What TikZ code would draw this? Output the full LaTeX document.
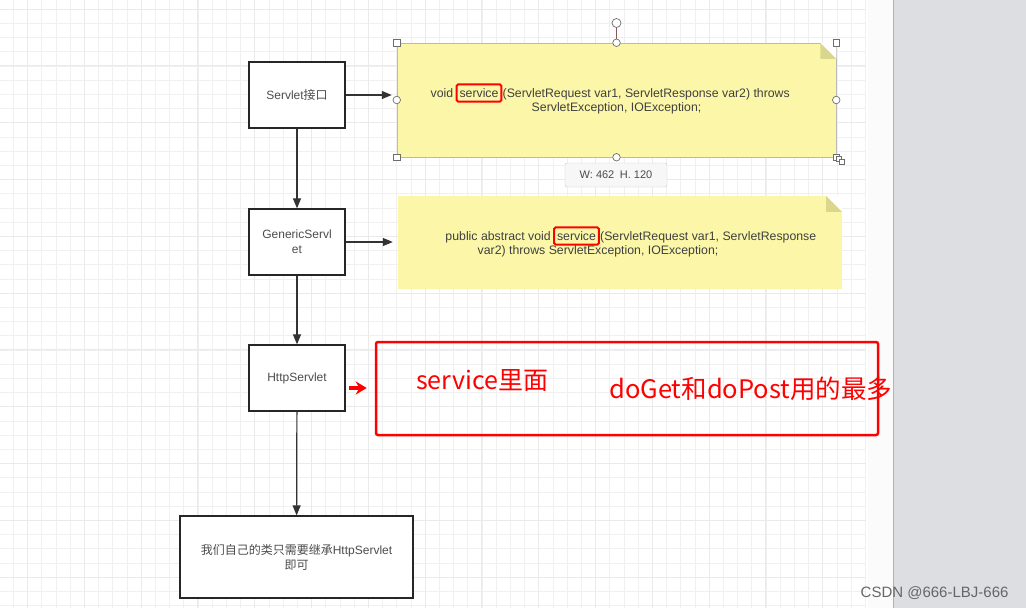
\documentclass[tikz,border=0pt]{standalone}
\usepackage{fontspec}
\setmainfont{Liberation Sans}
\newfontfamily\cjk{Noto Sans CJK SC}
\usepackage{tikz}
\usetikzlibrary{positioning,arrows.meta}
\definecolor{notey}{RGB}{252,247,168}
\definecolor{notefold}{RGB}{218,214,140}
\definecolor{panel}{RGB}{221,222,226}
\definecolor{gridmin}{RGB}{240,240,240}
\definecolor{gridmaj}{RGB}{234,234,234}
\definecolor{handle}{RGB}{110,110,110}

\begin{document}
\begin{tikzpicture}[x=1pt,y=-1pt,
  cls/.style={draw=black!85,line width=1.3pt,fill=white,minimum width=96,minimum height=66,
    align=center,font=\fontsize{12}{15}\selectfont,text=black!70,inner sep=2},
  flow/.style={draw=black!80,line width=1.2pt,-{Triangle[length=10,width=8]}},
  notetxt/.style={inner sep=0,font=\fontsize{12.3}{15}\selectfont,text=black!75},
  hilite/.style={notetxt,draw=red,line width=2pt,rounded corners=1.5,inner xsep=3,inner ysep=4},
  hsq/.style={draw=handle,fill=white,line width=0.7pt,minimum size=6.5,inner sep=0},
  hcirc/.style={draw=handle,fill=white,line width=0.7pt,circle,minimum size=7.5,inner sep=0}]
  \useasboundingbox (0,0) rectangle (1026,608);
  \fill[white] (0,0) rectangle (1026,608);
  % grid
  \foreach \i in {0,...,60}
    \draw[gridmin,line width=0.8pt] ({13.3+14.2*\i},0) -- ({13.3+14.2*\i},608);
  \foreach \j in {0,...,42}
    \draw[gridmin,line width=0.8pt] (0,{9.1+14.2*\j}) -- (866,{9.1+14.2*\j});
  \foreach \i in {1,5,...,57}
    \draw[gridmaj,line width=0.9pt] ({13.3+14.2*\i},0) -- ({13.3+14.2*\i},608);
  \foreach \j in {0,4,...,40}
    \draw[gridmaj,line width=0.9pt] (0,{9.1+14.2*\j}) -- (866,{9.1+14.2*\j});
  % right side panel
  \fill[white!97!gray] (868,0) rectangle (893,608);
  \fill[panel] (893,0) rectangle (1026,608);
  \draw[gray!60,line width=1pt] (893.5,0) -- (893.5,608);

  % classes
  \node[cls] (servlet) at (297,95) {Servlet{\cjk 接口}};
  \node[cls] (generic) at (297,242) {GenericServl\\et};
  \node[cls] (http) at (297,378) {HttpServlet};
  \node[cls,minimum width=233,minimum height=82] (mine) at (296.5,557)
    {{\cjk 我们自己的类只需要继承}HttpServlet\\{\cjk 即可}};

  % notes
  \node[fill=notey,draw=gray!55,line width=0.5pt,minimum width=439,minimum height=114] (note1) at (616.5,100) {};
  \fill[notefold] (note1.north east) ++(-16,0) -- ++(16,16) -- ++(-16,0) -- cycle;
  \fill[white] (note1.north east) ++(-16,0) -- ++(16,0) -- ++(0,16) -- cycle;
  \node[fill=notey,minimum width=444,minimum height=93] (note2) at (620,242.5) {};
  \fill[notefold] (note2.north east) ++(-16,0) -- ++(16,16) -- ++(-16,0) -- cycle;
  \fill[white] (note2.north east) ++(-16,0) -- ++(16,0) -- ++(0,16) -- cycle;

  \node[hilite] (svc1) at (479,93) {service};
  \node[notetxt,anchor=base east] (void1) at (svc1.base west) {void\,};
  \node[notetxt,anchor=base west] (args1) at (svc1.base east) {(ServletRequest var1, ServletResponse var2) throws};
  \node[notetxt] (exc1) at (616.5,108) {ServletException, IOException;};

  \node[hilite] (svc2) at (576.5,236) {service};
  \node[notetxt,anchor=base east] (pub2) at (svc2.base west) {public abstract void\,};
  \node[notetxt,anchor=base west] (args2) at (svc2.base east) {(ServletRequest var1, ServletResponse};
  \node[notetxt] (exc2) at (598,251) {var2) throws ServletException, IOException;};

  % selection handles
  \node[hcirc,minimum size=9] (rot) at (616.5,23) {};
  \draw[handle!80!red,line width=0.8pt] (rot) -- (note1.north);
  \foreach \a in {north west,north east,south west,south east}
    \node[hsq] at (note1.\a) {};
  \foreach \a in {north,south,west,east}
    \node[hcirc] at (note1.\a) {};
  \node[hsq,minimum size=5] at (838.5,158.5) {};
  \node[hsq,minimum size=5] at (842,162) {};
  \node[draw=gray!40,fill=gray!6,rounded corners=2,minimum width=102,minimum height=24,
    font=\fontsize{11}{13}\selectfont,text=black!70] (size) at (616,175) {W: 462\enspace H. 120};

  % callout
  \node[draw=red,line width=2.5pt,rounded corners=2,minimum width=502,minimum height=93] (callout) at (627,388.5) {};
  \node[text=red,font=\cjk\fontsize{25}{29}\selectfont,inner sep=0,anchor=west] (svctxt) at (416,380) {service里面};
  \node[text=red,font=\cjk\fontsize{25.5}{29}\selectfont,inner sep=0,anchor=west] (dotxt) at (609,389) {doGet和doPost用的最多};

  % arrows
  \draw[flow] (servlet) -- (generic);
  \draw[flow] (generic) -- (http);
  \draw[flow] (http) -- (mine);
  \draw[flow,shorten >=5pt] (servlet.east) -- (servlet.east -| note1.west);
  \draw[flow,shorten >=5pt] (generic.east) -- (generic.east -| note2.west);
  \draw[red,line width=3.5pt,-{Stealth[length=11,width=13]},shorten <=3pt,shorten >=8pt]
    ([yshift=-10]http.east) -- ([yshift=-10]http.east -| callout.west);

  \node[anchor=base east,text=black!60,font=\fontsize{15}{17}\selectfont] (mark) at (1012,597) {CSDN @666-LBJ-666};
\end{tikzpicture}
\end{document}
